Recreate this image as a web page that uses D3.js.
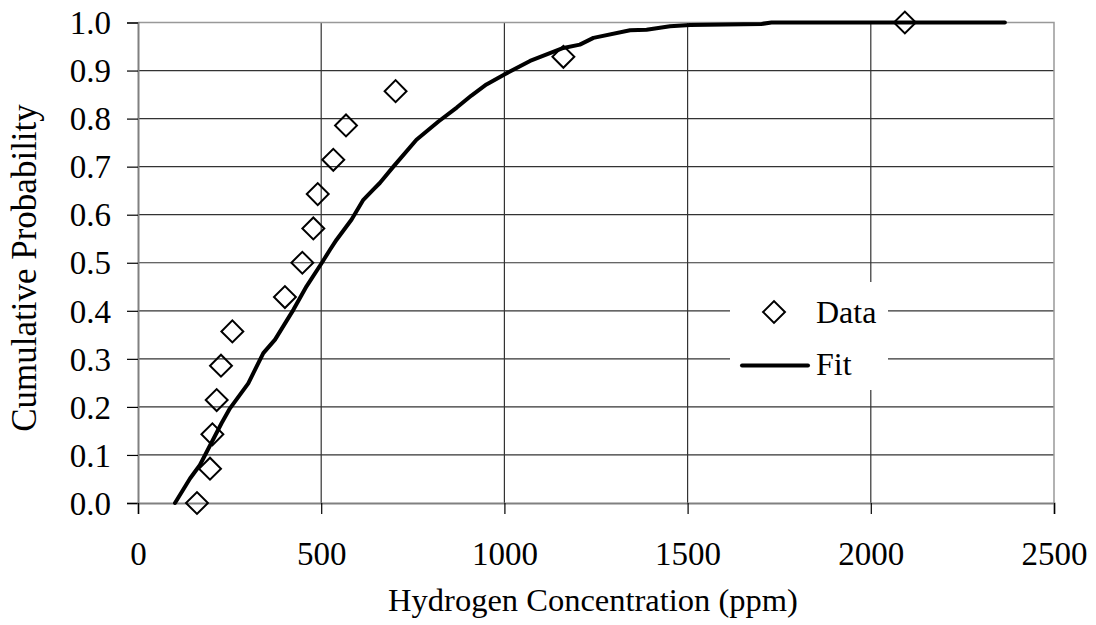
<!DOCTYPE html>
<html>
<head>
<meta charset="utf-8">
<script src="https://cdn.jsdelivr.net/npm/d3@7"></script>
<style>
  html, body { margin: 0; padding: 0; background: #fff; }
  svg { display: block; font-family: "Liberation Serif", "Times New Roman", serif; }
</style>
</head>
<body>
<svg id="chart" width="1096" height="625"></svg>
<script>
// ---- data ----
const dataX = [161, 196.5, 203, 214.7, 226.5, 257.5, 401, 448.5, 478.5, 490.5, 533, 567.7, 703, 1161, 2093];
const dataY = [0, 0.0714, 0.1429, 0.2143, 0.2857, 0.3571, 0.4286, 0.5, 0.5714, 0.6429, 0.7143, 0.7857, 0.8571, 0.9286, 1.0];

const fitX = [101, 142, 169, 228, 251, 301, 342, 374, 424, 460, 501, 524, 542, 583, 615, 642, 660, 697, 760, 820, 870, 910, 951, 1000, 1070, 1161, 1206, 1243, 1343, 1388, 1452, 1507, 1702, 1729, 2366];
const fitY = [0, 0.051, 0.079, 0.166, 0.197, 0.249, 0.312, 0.34, 0.402, 0.451, 0.499, 0.527, 0.548, 0.59, 0.631, 0.652, 0.666, 0.70, 0.756, 0.794, 0.823, 0.848, 0.871, 0.892, 0.92, 0.947, 0.954, 0.968, 0.984, 0.985, 0.992, 0.995, 0.997, 1.0, 1.0];

const xTicks = [0, 500, 1000, 1500, 2000, 2500];
const yTicks = [0, 0.1, 0.2, 0.3, 0.4, 0.5, 0.6, 0.7, 0.8, 0.9, 1.0];
const seriesNames = ["Data", "Fit"];
const xTitle = "Hydrogen Concentration (ppm)";
const yTitle = "Cumulative Probability";

// ---- layout ----
const svg = d3.select("#chart");
const x = d3.scaleLinear().domain([0, 2500]).range([138, 1054]);
const y = d3.scaleLinear().domain([0, 1]).range([503, 22.5]);

// gridlines
const grid = svg.append("g");
grid.selectAll("line.h").data(yTicks.slice(1, -1)).join("line")
  .attr("x1", x(0)).attr("x2", x(2500))
  .attr("y1", d => y(d)).attr("y2", d => y(d))
  .attr("stroke", "#333").attr("stroke-width", 1.2);
grid.selectAll("line.v").data(xTicks.slice(1, -1)).join("line")
  .attr("x1", d => x(d)).attr("x2", d => x(d))
  .attr("y1", y(0)).attr("y2", y(1))
  .attr("stroke", "#333").attr("stroke-width", 1.2);

// plot border (gray)
svg.append("path")
  .attr("d", `M${x(0)},${y(1)}H${x(2500)}V${y(0)}`)
  .attr("fill", "none").attr("stroke", "#999").attr("stroke-width", 1.5);

// axes
const yAxis = d3.axisLeft(y).tickValues(yTicks).tickFormat(d3.format(".1f")).tickSize(11).tickPadding(16);
const xAxis = d3.axisBottom(x).tickValues(xTicks).tickFormat(d3.format("d")).tickSize(11).tickPadding(28);

const gy = svg.append("g").attr("transform", `translate(${x(0)},0)`).call(yAxis);
const gx = svg.append("g").attr("transform", `translate(0,${y(0)})`).call(xAxis);
[gx, gy].forEach(g => {
  g.select(".domain").attr("stroke", "#808080").attr("stroke-width", 2);
  g.selectAll(".tick line").attr("stroke", "#000").attr("stroke-width", 1.2);
  g.selectAll(".tick text").attr("fill", "#000")
    .style("font-family", '"Liberation Serif", serif').style("font-size", "33px");
});
gy.selectAll(".tick text").attr("dy", "0.34em");
gx.selectAll(".tick text").attr("dy", "0.71em");

// axis titles
svg.append("text").attr("x", 593).attr("y", 611).attr("text-anchor", "middle")
  .style("font-size", "32.5px").text(xTitle);
svg.append("text").attr("transform", "translate(36,268) rotate(-90)").attr("text-anchor", "middle")
  .style("font-size", "35px").text(yTitle);

// legend box (white, no border)
svg.append("rect").attr("x", 730).attr("y", 282).attr("width", 158).attr("height", 108).attr("fill", "#fff");

// fit line
const pts = fitX.map((v, i) => [v, fitY[i]]);
svg.append("path").datum(pts)
  .attr("d", d3.line().x(d => x(d[0])).y(d => y(d[1])))
  .attr("fill", "none").attr("stroke", "#000").attr("stroke-width", 4)
  .attr("stroke-linejoin", "round").attr("stroke-linecap", "round");

// data diamonds
const diamond = d3.symbol().type(d3.symbolSquare).size(240);
svg.append("g").selectAll("path").data(dataX.map((v, i) => [v, dataY[i]])).join("path")
  .attr("d", diamond)
  .attr("transform", d => `translate(${x(d[0])},${y(d[1])}) rotate(45)`)
  .attr("fill", "none").attr("stroke", "#000").attr("stroke-width", 2);

// legend content
svg.append("path").attr("d", diamond).attr("transform", "translate(774,312) rotate(45)")
  .attr("fill", "none").attr("stroke", "#000").attr("stroke-width", 2);
svg.append("line").attr("x1", 742).attr("x2", 808).attr("y1", 365.5).attr("y2", 365.5)
  .attr("stroke", "#000").attr("stroke-width", 4).attr("stroke-linecap", "round");
svg.append("text").attr("x", 816).attr("y", 322.5).style("font-size", "32px").text(seriesNames[0]);
svg.append("text").attr("x", 816).attr("y", 375).style("font-size", "32px").text(seriesNames[1]);
</script>
</body>
</html>
